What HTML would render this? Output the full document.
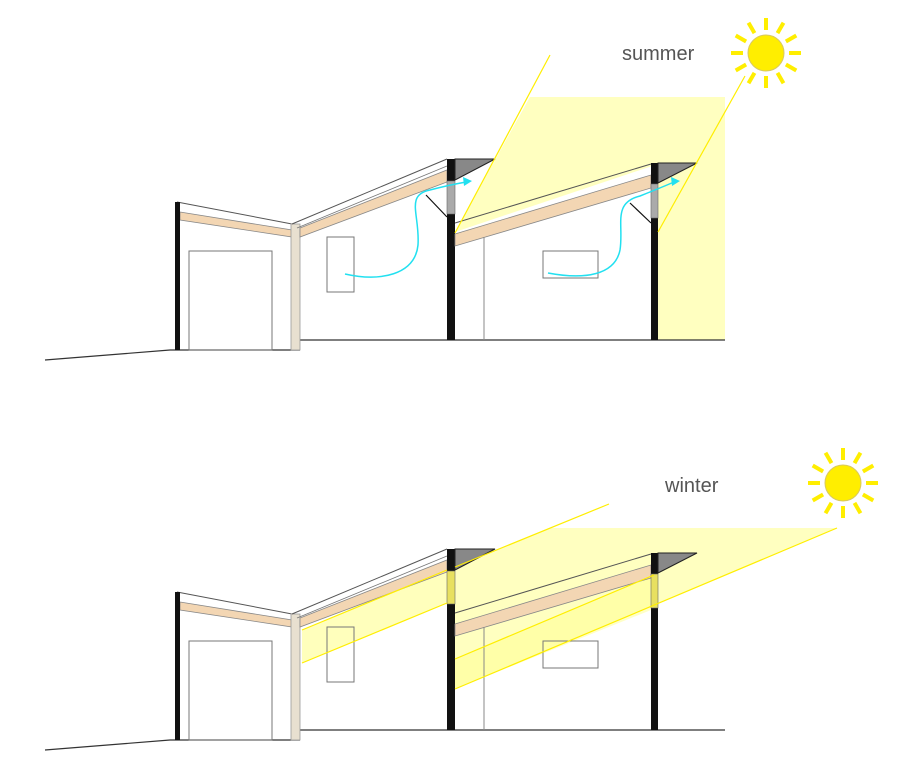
<!DOCTYPE html>
<html><head><meta charset="utf-8"><style>html,body{margin:0;padding:0;background:#fff}svg{display:block}</style></head>
<body>
<svg width="920" height="767" viewBox="0 0 920 767" xmlns="http://www.w3.org/2000/svg">
<defs>
<g id="sunrays">
 <g stroke="#ffee00" stroke-width="4" stroke-linecap="butt">
  <line x1="0" y1="-23" x2="0" y2="-35"/><line x1="0" y1="23" x2="0" y2="35"/>
  <line x1="-23" y1="0" x2="-35" y2="0"/><line x1="23" y1="0" x2="35" y2="0"/>
  <line x1="11.5" y1="-19.9" x2="17.5" y2="-30.3"/><line x1="-11.5" y1="-19.9" x2="-17.5" y2="-30.3"/>
  <line x1="11.5" y1="19.9" x2="17.5" y2="30.3"/><line x1="-11.5" y1="19.9" x2="-17.5" y2="30.3"/>
  <line x1="19.9" y1="-11.5" x2="30.3" y2="-17.5"/><line x1="-19.9" y1="-11.5" x2="-30.3" y2="-17.5"/>
  <line x1="19.9" y1="11.5" x2="30.3" y2="17.5"/><line x1="-19.9" y1="11.5" x2="-30.3" y2="17.5"/>
 </g>
 <circle r="18" fill="#ffee00" stroke="#d8c860" stroke-width="1"/>
</g>
<g id="house">
 <!-- ground -->
 <polyline points="45,360 170,350 175,350" fill="none" stroke="#333" stroke-width="1.2"/>
 <line x1="175" y1="350" x2="300" y2="350" stroke="#333" stroke-width="1.2"/>
 <line x1="300" y1="340" x2="725" y2="340" stroke="#333" stroke-width="1.2"/>
 <!-- garage -->
 <line x1="177" y1="202" x2="292" y2="224" stroke="#555" stroke-width="1"/>
 <polygon points="180,212 292,230 292,237 180,220" fill="#f3d6b3" stroke="#888" stroke-width="0.8"/>
 <rect x="175" y="202" width="5" height="148" fill="#111"/>
 <rect x="189" y="251" width="83" height="99" fill="none" stroke="#777" stroke-width="1"/>
 <rect x="291" y="224" width="9" height="126" fill="#e8e0d0" stroke="#999" stroke-width="0.8"/>
 <!-- middle roof -->
 <line x1="292" y1="224" x2="447" y2="159" stroke="#555" stroke-width="1"/>
 <line x1="297" y1="228" x2="447" y2="166" stroke="#777" stroke-width="0.8"/>
 <polygon points="300,228 447,170 447,182 300,237" fill="#f3d6b3" stroke="#888" stroke-width="0.8"/>
 <rect x="327" y="237" width="27" height="55" fill="none" stroke="#777" stroke-width="1"/>
 <!-- column 1 -->
 <rect x="447" y="159" width="8" height="181" fill="#111"/>
 <polygon points="455,159 495,159 455,180" fill="#888" stroke="#222" stroke-width="1"/>
 <!-- right roof -->
 <line x1="455" y1="223" x2="651" y2="164" stroke="#555" stroke-width="1"/>
 <polygon points="455,234 651,175 651,188 455,246" fill="#f3d6b3" stroke="#888" stroke-width="0.8"/>
 <line x1="484" y1="237" x2="484" y2="340" stroke="#888" stroke-width="1"/>
 <rect x="543" y="251" width="55" height="27" fill="none" stroke="#777" stroke-width="1"/>
 <!-- column 2 -->
 <rect x="651" y="163" width="7" height="177" fill="#111"/>
 <polygon points="658,163 697,163 658,183" fill="#888" stroke="#222" stroke-width="1"/>
</g>
</defs>

<!-- SUMMER -->
<polygon points="530,97 725,97 725,340 658,340 658,164 455,232" fill="#ffffc0"/>
<use href="#house"/>
<!-- glass -->
<rect x="447" y="181" width="8" height="33" fill="#aaa" stroke="#666" stroke-width="0.6"/>
<rect x="651" y="184" width="7" height="34" fill="#aaa" stroke="#666" stroke-width="0.6"/>
<line x1="550" y1="55" x2="455" y2="233" stroke="#ffee00" stroke-width="1.2"/>
<line x1="745" y1="76" x2="658" y2="232" stroke="#ffee00" stroke-width="1.2"/>
<line x1="426" y1="195" x2="447" y2="217" stroke="#111" stroke-width="1.2"/>
<line x1="630" y1="203" x2="651" y2="223" stroke="#111" stroke-width="1.2"/>
<path d="M345,274 C380,282 415,275 418,245 C420,215 405,195 430,190 C445,186 455,184 466,182" fill="none" stroke="#22e0f0" stroke-width="1.5"/>
<polygon points="472,181 463,177 464,186" fill="#22e0f0"/>
<path d="M548,273 C585,280 615,275 620,250 C624,225 612,203 640,196 C655,190 665,186 674,182" fill="none" stroke="#22e0f0" stroke-width="1.5"/>
<polygon points="680,181 671,177 672,186" fill="#22e0f0"/>
<use href="#sunrays" transform="translate(766,53)"/>
<text x="622" y="60" font-family="Liberation Sans, sans-serif" font-size="20" fill="#555">summer</text>

<!-- WINTER -->
<polygon points="550,528 837,528 455,689 455,567" fill="#ffffb0" opacity="0.8"/>
<polygon points="447,567 447,603 302,663 302,630" fill="#ffffa0" opacity="0.7"/>
<polygon points="455,659 654,575 651,610 455,689" fill="#ffff90" opacity="0.5"/>
<use href="#house" transform="translate(0,390)"/>
<rect x="447" y="571" width="8" height="33" fill="#e8e060" stroke="#666" stroke-width="0.6"/>
<rect x="651" y="574" width="7" height="34" fill="#e8e060" stroke="#666" stroke-width="0.6"/>
<line x1="609" y1="504" x2="455" y2="567" stroke="#ffee00" stroke-width="1.2"/>
<line x1="447" y1="570" x2="302" y2="630" stroke="#ffee00" stroke-width="1.2"/>
<line x1="447" y1="603" x2="302" y2="663" stroke="#ffee00" stroke-width="1.2"/>
<line x1="837" y1="528" x2="455" y2="689" stroke="#ffee00" stroke-width="1.2"/>
<line x1="654" y1="575" x2="455" y2="659" stroke="#ffee00" stroke-width="1.2"/>
<use href="#sunrays" transform="translate(843,483)"/>
<text x="665" y="492" font-family="Liberation Sans, sans-serif" font-size="20" fill="#555">winter</text>
</svg>
</body></html>
